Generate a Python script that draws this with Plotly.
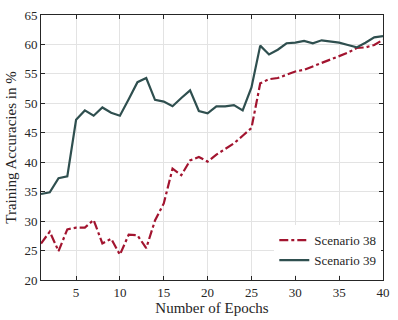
import plotly.graph_objects as go

epochs = list(range(1, 41))

scenario_38 = [26.2, 28.2, 24.9, 28.6, 28.9, 28.9, 30.2, 26.2, 27.0, 24.3,
               27.7, 27.6, 25.4, 30.1, 33.0, 38.9, 37.8, 40.3, 40.9, 40.1,
               41.3, 42.2, 43.2, 44.5, 45.8, 53.4, 54.1, 54.3, 54.9, 55.4,
               55.7, 56.3, 56.9, 57.4, 58.0, 58.6, 59.4, 59.5, 59.9, 60.8]

scenario_39 = [34.6, 34.9, 37.3, 37.6, 47.2, 48.8, 47.9, 49.3, 48.4, 47.9,
               50.7, 53.6, 54.3, 50.6, 50.3, 49.5, 50.9, 52.2, 48.7, 48.3,
               49.5, 49.5, 49.7, 48.8, 52.7, 59.8, 58.3, 59.1, 60.2, 60.3,
               60.6, 60.2, 60.7, 60.5, 60.3, 59.9, 59.5, 60.3, 61.2, 61.4]

font = 'Liberation Serif, DejaVu Serif, serif'
axcol = '#262626'

fig = go.Figure()
fig.add_trace(go.Scatter(x=epochs, y=scenario_38, mode='lines', name='Scenario 38',
                         line=dict(color='#A2142F', width=2.2, dash='dashdot')))
fig.add_trace(go.Scatter(x=epochs, y=scenario_39, mode='lines', name='Scenario 39',
                         line=dict(color='#2F4F4F', width=2.2)))

axis = dict(showline=True, linecolor=axcol, linewidth=1, mirror='ticks',
            ticks='inside', ticklen=4, tickcolor=axcol,
            showgrid=True, gridcolor='#e3e3e3', gridwidth=1, zeroline=False,
            tickfont=dict(family=font, size=13, color=axcol))

fig.update_xaxes(range=[1, 40], tickvals=[5, 10, 15, 20, 25, 30, 35, 40],
                 title=dict(text='Number of Epochs', font=dict(family=font, size=15, color=axcol), standoff=2),
                 **axis)
fig.update_yaxes(range=[20, 65], dtick=5,
                 title=dict(text='Training Accuracies in %', font=dict(family=font, size=15, color=axcol), standoff=4),
                 **axis)

fig.update_layout(
    width=398, height=320,
    margin=dict(l=41, r=10, t=8, b=38),
    plot_bgcolor='white', paper_bgcolor='white',
    legend=dict(x=0.995, y=0.018, xanchor='right', yanchor='bottom',
                bgcolor='white', borderwidth=0,
                font=dict(family=font, size=13, color=axcol),
                tracegroupgap=0, itemwidth=30),
)

fig.write_html("out.html", config={'displayModeBar': False},
               post_script="document.body.style.margin='0';")
